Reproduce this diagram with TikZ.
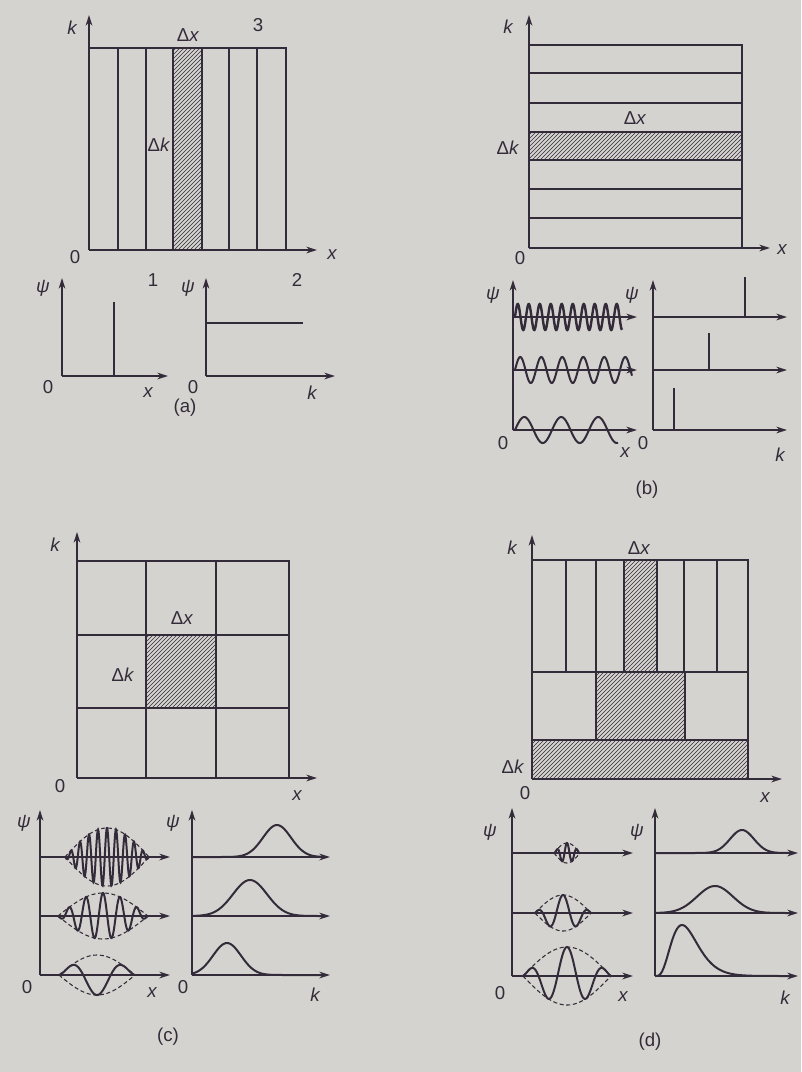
\documentclass[tikz,border=0pt]{standalone}
\usepackage{fontspec}
\setmainfont{Liberation Sans}
\usetikzlibrary{arrows.meta, patterns}
\definecolor{paper}{RGB}{213,211,207}
\definecolor{ink}{RGB}{52,43,58}

\begin{document}
\begin{tikzpicture}[
    x=0.75pt, y=-0.75pt,
    axis/.style={draw=ink, line width=1.2pt, -{Stealth[length=8pt,width=5pt]}},
    frame/.style={draw=ink, line width=1.3pt},
    hatched/.style={pattern=north east lines, pattern color=ink},
    tag/.style={text=ink, inner sep=0pt, font=\fontsize{14}{16}\selectfont},
    curve/.style={draw=ink, line width=1.5pt},
    envelope/.style={draw=ink, line width=0.8pt, dash pattern=on 3pt off 2pt},
    spike/.style={draw=ink, line width=1.5pt}
]

% paper
\fill[paper] (0,0) rectangle (801,1072);

%% (a) upper: vertical strips
\fill[hatched] (173,48) rectangle (202,250);
\draw[frame] (89,48) -| (286,250);
\foreach \col in {118,146,173,202,229,257}
    \draw[frame] (\col,48) -- (\col,250);
\draw[axis] (89,250) -- (89,15);
\draw[axis] (89,250) -- (317,250);

\node[tag] (ka) at (72,28) {\itshape k};
\node[tag] (dxa) at (188,35) {Δ\textit{x}};
\node[tag] (three) at (258,25) {3};
\node[tag, fill=paper] (dka) at (159,145) {Δ\textit{k}};
\node[tag] (zeroa) at (75,257) {0};
\node[tag] (xa) at (332,255) {\itshape x};

%% (a) lower: spike and flat line
\draw[axis] (62,376) -- (62,278);
\draw[axis] (62,376) -- (168,376);
\draw[spike] (114,302) -- (114,376);
\draw[axis] (206,376) -- (206,278);
\draw[axis] (206,376) -- (335,376);
\draw[spike] (206,323) -- (303,323);

\node[tag] (psia) at (43,288) {\itshape ψ};
\node[tag] (one) at (153,280) {1};
\node[tag] (zeroa1) at (48,387) {0};
\node[tag] (xa1) at (148,393) {\itshape x};
\node[tag] (psib) at (188,288) {\itshape ψ};
\node[tag] (two) at (297,280) {2};
\node[tag] (zeroa2) at (193,387) {0};
\node[tag] (ka2) at (312,393) {\itshape k};
\node[tag] (capa) at (185,408) {(a)};

%% (b) upper: horizontal strips
\fill[hatched] (529,132) rectangle (742,160);
\draw[frame] (529,45) -| (742,248);
\foreach \row in {73,103,132,160,189,218}
    \draw[frame] (529,\row) -- (742,\row);
\draw[axis] (529,248) -- (529,15);
\draw[axis] (529,248) -- (770,248);

\node[tag] (kb) at (508,27) {\itshape k};
\node[tag] (dxb) at (635,118) {Δ\textit{x}};
\node[tag] (dkb) at (508,148) {Δ\textit{k}};
\node[tag] (zerob) at (520,258) {0};
\node[tag] (xb) at (782,250) {\itshape x};

%% (b) lower: plane waves and their lines
\draw[axis] (513,430) -- (513,280);
\foreach \base in {317,370,430}
    \draw[axis] (513,\base) -- (637,\base);
\draw[curve, line width=1.8pt] plot[domain=515:622, samples=300] (\x,{317-13*sin(360*((\x-515)/11))});
\draw[curve] plot[domain=515:632, samples=200] (\x,{370-13*sin(360*((\x-515)/21))});
\draw[curve] plot[domain=515:618, samples=120] (\x,{430-13*sin(360*((\x-515)/37))});

\draw[axis] (653,430) -- (653,280);
\foreach \base in {317,370,430}
    \draw[axis] (653,\base) -- (787,\base);
\draw[spike] (745,277) -- (745,317);
\draw[spike] (709,333) -- (709,370);
\draw[spike] (674,388) -- (674,430);

\node[tag] (psic) at (493,295) {\itshape ψ};
\node[tag] (psid) at (632,295) {\itshape ψ};
\node[tag] (zerob1) at (503,443) {0};
\node[tag] (xb1) at (625,453) {\itshape x};
\node[tag] (zerob2) at (643,443) {0};
\node[tag] (kb2) at (780,455) {\itshape k};
\node[tag] (capb) at (647,490) {(b)};

%% (c) upper: square cells
\fill[hatched] (146,635) rectangle (216,708);
\draw[frame] (77,561) -| (289,778);
\foreach \col in {146,216}
    \draw[frame] (\col,561) -- (\col,778);
\foreach \row in {635,708}
    \draw[frame] (77,\row) -- (289,\row);
\draw[axis] (77,778) -- (77,532);
\draw[axis] (77,778) -- (317,778);

\node[tag] (kc) at (55,545) {\itshape k};
\node[tag] (dxc) at (182,618) {Δ\textit{x}};
\node[tag] (dkc) at (123,675) {Δ\textit{k}};
\node[tag] (zeroc) at (60,786) {0};
\node[tag] (xc) at (297,796) {\itshape x};

%% (c) and (d) lower left: wave packets
\draw[axis] (40,975) -- (40,810);
\foreach \base in {857,916,975}
    \draw[axis] (40,\base) -- (170,\base);
\draw[axis] (512,976) -- (512,808);
\foreach \base in {853,913,976}
    \draw[axis] (512,\base) -- (633,\base);

\foreach \base/\cx/\hw/\amp/\per/\ph in {857/107/42/29/9/0, 916/103/45/23/17/0,
        975/97/38/20/55/180, 853/567/13/10/10/0, 913/563/28/18/27/0, 976/567/44/29/38/0}
{
    \pgfmathsetmacro\lo{\cx-\hw}
    \pgfmathsetmacro\hi{\cx+\hw}
    \draw[envelope] plot[domain=\lo:\hi, samples=60] (\x,{\base-\amp*cos(90*((\x-\cx)/\hw))});
    \draw[envelope] plot[domain=\lo:\hi, samples=60] (\x,{\base+\amp*cos(90*((\x-\cx)/\hw))});
    \draw[curve] plot[domain=\lo:\hi, samples=240]
        (\x,{\base-\amp*cos(90*((\x-\cx)/\hw))*cos(360*((\x-\cx)/\per)+\ph)});
}

%% (c) lower right: spectra
\draw[axis] (192,975) -- (192,810);
\foreach \base in {857,916,975}
    \draw[axis] (192,\base) -- (330,\base);
\foreach \base/\cx/\hgt/\sg in {857/277/32/14, 916/250/36/17, 975/227/32/14}
    \draw[curve] plot[domain=192:325, samples=100] (\x,{\base-\hgt*exp(-0.5*((\x-\cx)/\sg)^2)});

\node[tag] (psie) at (24,823) {\itshape ψ};
\node[tag] (psif) at (173,823) {\itshape ψ};
\node[tag] (zeroc1) at (27,987) {0};
\node[tag] (xc1) at (152,993) {\itshape x};
\node[tag] (zeroc2) at (183,987) {0};
\node[tag] (kc2) at (315,995) {\itshape k};
\node[tag] (capc) at (168,1037) {(c)};

%% (d) upper: mixed cells
\fill[hatched] (624,560) rectangle (657,672);
\fill[hatched] (596,672) rectangle (685,740);
\fill[hatched] (532,740) rectangle (748,779);
\draw[frame] (532,560) -| (748,779);
\foreach \col in {566,596,624,657,684,717}
    \draw[frame] (\col,560) -- (\col,672);
\foreach \row in {672,740}
    \draw[frame] (532,\row) -- (748,\row);
\foreach \col in {596,685}
    \draw[frame] (\col,672) -- (\col,740);
\draw[axis] (532,779) -- (532,535);
\draw[axis] (532,779) -- (782,779);

\node[tag] (kd) at (512,548) {\itshape k};
\node[tag] (dxd) at (639,548) {Δ\textit{x}};
\node[tag] (dkd) at (513,767) {Δ\textit{k}};
\node[tag] (zerod) at (525,793) {0};
\node[tag] (xd) at (765,798) {\itshape x};

%% (d) lower right: spectra
\draw[axis] (655,976) -- (655,808);
\foreach \base in {853,913,976}
    \draw[axis] (655,\base) -- (798,\base);
\foreach \base/\cx/\hgt/\sg in {853/742/23/12, 913/715/27/18}
    \draw[curve] plot[domain=655:792, samples=100] (\x,{\base-\hgt*exp(-0.5*((\x-\cx)/\sg)^2)});
\draw[curve] plot[domain=655:792, samples=120] (\x,{976-51*(((\x-655)/27)*exp(1-(\x-655)/27))^4});

\node[tag] (psig) at (490,832) {\itshape ψ};
\node[tag] (psih) at (637,832) {\itshape ψ};
\node[tag] (zerod1) at (500,993) {0};
\node[tag] (xd1) at (623,997) {\itshape x};
\node[tag] (kd2) at (785,998) {\itshape k};
\node[tag] (capd) at (650,1042) {(d)};

\end{tikzpicture}
\end{document}
